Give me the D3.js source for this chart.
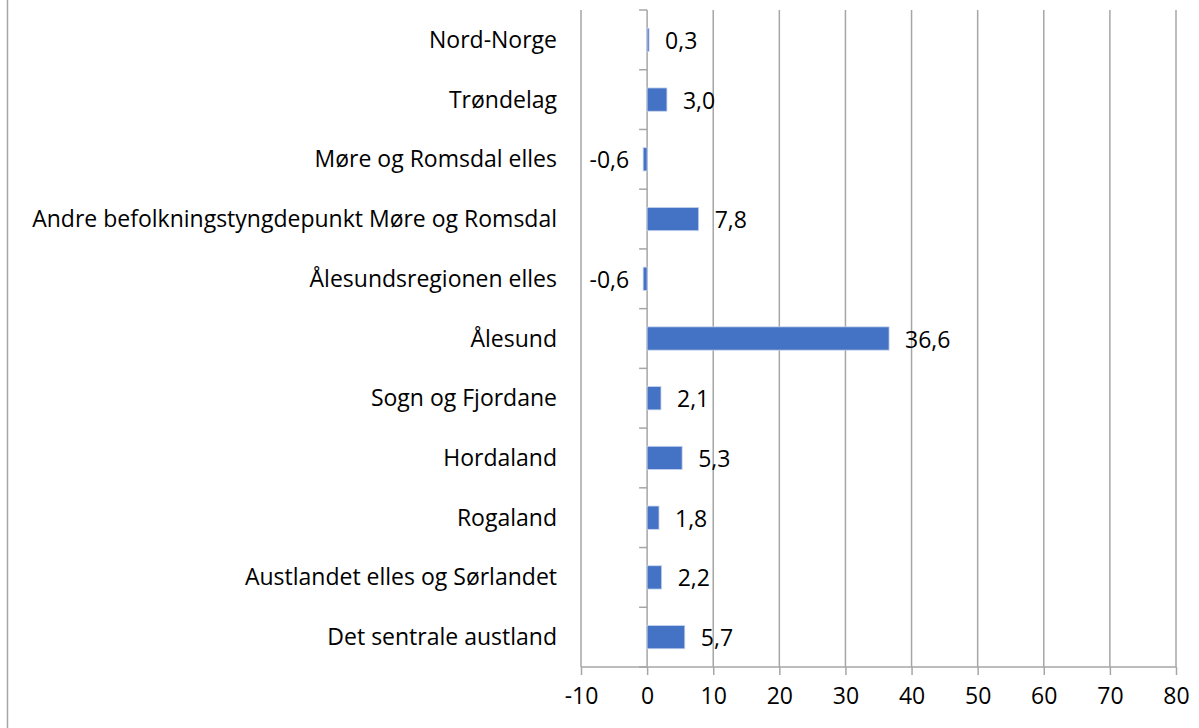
<!DOCTYPE html>
<html><head><meta charset="utf-8">
<script src="https://cdn.jsdelivr.net/npm/d3@7"></script>
<style>body{margin:0;background:#fff;} text{font-family:"Open Sans",sans-serif;fill:#000;}</style>
</head><body>
<svg id="c" width="1199" height="728"></svg>
<script>
const categories = ["Nord-Norge","Trøndelag","Møre og Romsdal elles","Andre befolkningstyngdepunkt Møre og Romsdal","Ålesundsregionen elles","Ålesund","Sogn og Fjordane","Hordaland","Rogaland","Austlandet elles og Sørlandet","Det sentrale austland"];
const values = [0.3,3.0,-0.6,7.8,-0.6,36.6,2.1,5.3,1.8,2.2,5.7];
const xTicks = [-10,0,10,20,30,40,50,60,70,80];

const svg = d3.select("#c");
const pLeft = 581, pRight = 1176, pTop = 10, pBottom = 667;
const x = d3.scaleLinear().domain([-10,80]).range([pLeft,pRight]);
const y = d3.scaleBand().domain(categories).range([pTop,pBottom]).paddingInner(0.61).paddingOuter(0.305);
const yb = d3.scaleBand().domain(categories).range([pTop,pBottom]);
const grid = "#a6a6a6";
const fs = 23;

// outer left border
svg.append("line").attr("x1",7.5).attr("x2",7.5).attr("y1",0).attr("y2",728).attr("stroke",grid).attr("stroke-width",1.5);

// gridlines
svg.append("g").selectAll("line").data(xTicks).join("line")
  .attr("x1",d=>x(d)).attr("x2",d=>x(d)).attr("y1",pTop).attr("y2",pBottom)
  .attr("stroke",grid).attr("stroke-width",1.5);

// x axis
const xa = svg.append("g").attr("transform",`translate(0,${pBottom})`)
  .call(d3.axisBottom(x).tickValues(xTicks).tickSize(8).tickPadding(12).tickFormat(d=>String(d)));
xa.select(".domain").attr("stroke",grid).attr("stroke-width",1.5).attr("d",`M${pLeft},0H${pRight}`);
xa.selectAll(".tick line").attr("stroke",grid).attr("stroke-width",1.5);
xa.selectAll(".tick text").style("font-size",fs+"px").style("font-family","'Open Sans',sans-serif").attr("fill","#000").attr("dy","0.72em");

// y axis ticks at zero
const bounds = categories.map(c=>yb(c)).concat([pBottom]);
svg.append("g").selectAll("line").data(bounds).join("line")
  .attr("x1",x(0)-8).attr("x2",x(0)).attr("y1",d=>d).attr("y2",d=>d)
  .attr("stroke",grid).attr("stroke-width",1.5);

// bars
svg.append("g").selectAll("rect").data(values).join("rect")
  .attr("x",d=>x(Math.min(0,d))).attr("width",d=>Math.abs(x(d)-x(0)))
  .attr("y",(d,i)=>y(categories[i])).attr("height",y.bandwidth())
  .attr("fill","#4472c4").attr("stroke","#c9d5ee").attr("stroke-width",0.8);

// category labels
svg.append("g").selectAll("text").data(categories).join("text")
  .attr("x",557).attr("y",c=>yb(c)+yb.bandwidth()/2).attr("dy","0.35em")
  .attr("text-anchor","end").style("font-size",fs+"px").text(c=>c);

// value labels
const fmt = v => v.toFixed(1).replace(".",",");
svg.append("g").selectAll("text").data(values).join("text")
  .attr("x",d=> d<0 ? x(d)-14 : x(d)+16)
  .attr("text-anchor",d=> d<0 ? "end":"start")
  .attr("y",(d,i)=>yb(categories[i])+yb.bandwidth()/2+1).attr("dy","0.35em")
  .style("font-size",fs+"px").text(fmt);
</script>
</body></html>
